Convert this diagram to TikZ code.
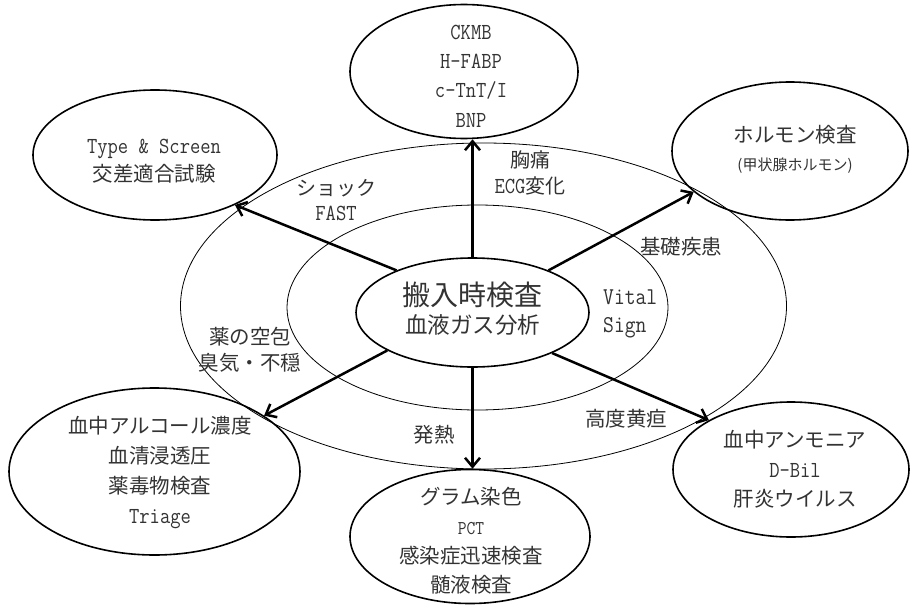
\documentclass[tikz,border=0pt]{standalone}
\usepackage{fontspec}
\usepackage{graphicx}
\setmainfont{Noto Sans CJK JP}
\usetikzlibrary{arrows.meta,shapes.geometric}
\newcommand{\la}[1]{\scalebox{1}[1.15]{\ttfamily #1}}
\newcommand{\fsz}[2]{\fontsize{#1}{#2}\selectfont}
\begin{document}
\begin{tikzpicture}[x=1pt,y=-1pt,
  sat/.style={draw, ellipse, line width=1.6pt, inner sep=0pt},
  ring/.style={draw, ellipse, line width=0.8pt, inner sep=0pt},
  txt/.style={align=center, inner sep=0pt, text=black!80},
  arr/.style={line width=2.5pt, -{Straight Barb[length=9pt,width=15pt]}}]
\useasboundingbox (0,0) rectangle (910,605);
% rings
\node[ring, minimum width=606pt, minimum height=326pt] (outer) at (483.5,306) {};
\node[ring, minimum width=381pt, minimum height=205pt] (mid) at (477.5,307.5) {};
% center
\node[sat, minimum width=233pt, minimum height=109pt] (C) at (472.5,312.5) {};
\node[txt, font={\fsz{28}{28}}] (ct1) at (472.5,295) {搬入時検査};
\node[txt, font={\fsz{22.5}{28}}] (ct2) at (472.5,325) {血液ガス分析};
% satellites
\node[sat, minimum width=228pt, minimum height=134pt] (top) at (464,71.5) {};
\node[sat, minimum width=244pt, minimum height=130pt] (tl) at (155,155) {};
\node[sat, minimum width=236pt, minimum height=138pt] (tr) at (790,151) {};
\node[sat, minimum width=291pt, minimum height=167pt] (bl) at (154.5,471.5) {};
\node[sat, minimum width=240pt, minimum height=134pt] (bot) at (470,536.5) {};
\node[sat, minimum width=236pt, minimum height=135pt] (br) at (791,469.5) {};
% satellite texts
\node[txt, font={\fsz{20}{29.3}}] (ttop) at (471,76) {\la{CKMB}\\\la{H-FABP}\\\la{c-TnT/I}\\\la{BNP}};
\node[txt, font={\fsz{20.5}{28}}] (ttl) at (154,161) {{\fsz{20}{28}\la{Type \& Screen}}\\交差適合試験};
\node[txt, font={\fsz{20.5}{28}}] (ttr1) at (795,135) {ホルモン検査};
\node[txt, font={\fsz{15}{20}}] (ttr2) at (795,166) {(甲状腺ホルモン)};
\node[txt, font={\fsz{20.5}{30}}] (tbl) at (160,473) {血中アルコール濃度\\血清浸透圧\\薬毒物検査\\{\fsz{20}{30}\la{Triage}}};
\node[txt, font={\fsz{20.5}{29.3}}] (tbot) at (471,541) {グラム染色\\{\fsz{17}{29.3}\la{PCT}}\\感染症迅速検査\\髄液検査};
\node[txt, font={\fsz{20.5}{29.5}}] (tbr) at (795,469.5) {血中アンモニア\\{\fsz{20}{29.5}\la{D-Bil}}\\肝炎ウイルス};
% ring labels
\node[txt, font={\fsz{20}{26}}] (l1) at (530,173) {胸痛\\\la{ECG}変化};
\node[txt, font={\fsz{20}{25}}] (l2) at (336,200.5) {ショック\\\la{FAST}};
\node[txt, font={\fsz{20.5}{26}}] (l3) at (681,247) {基礎疾患};
\node[txt, font={\fsz{21}{28}}, align=left, anchor=west] (l4) at (603,314) {\la{Vital}\\\la{Sign}};
\node[txt, font={\fsz{20.5}{26}}] (l5) at (250,350) {薬の空包\\臭気・不穏};
\node[txt, font={\fsz{20.5}{26}}] (l6) at (434,435) {発熱};
\node[txt, font={\fsz{20.5}{26}}] (l7) at (626,419) {高度黄疸};
% arrows
\draw[arr] (C.90) -- (C.90 |- top.south);
\draw[arr] (C.151) -- (tl.-32);
\draw[arr] (C.29) -- (tr.203);
\draw[arr] (C.204) -- (bl.27.5);
\draw[arr] (C.-90) -- (C.-90 |- bot.north);
\draw[arr] (C.-27) -- (br.149);
\end{tikzpicture}
\end{document}
